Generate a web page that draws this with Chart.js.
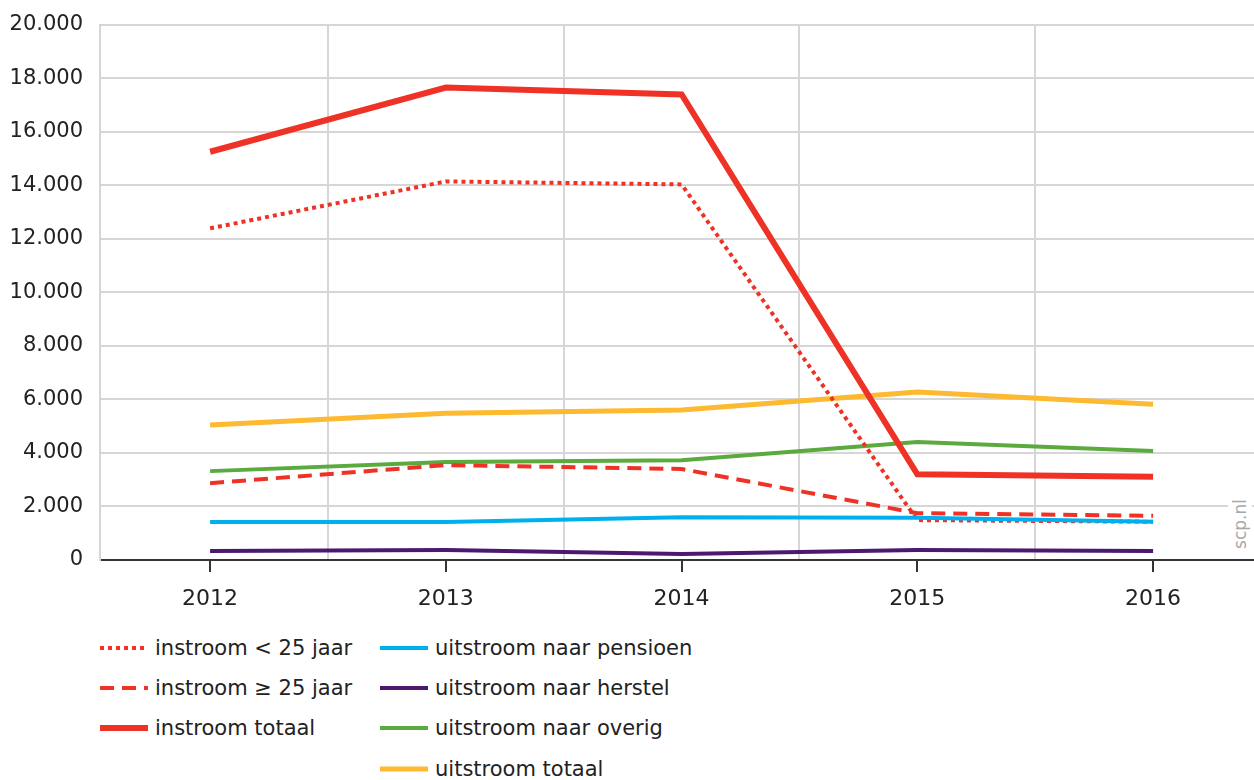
<!DOCTYPE html>
<html lang="nl">
<head>
<meta charset="utf-8">
<title>Instroom en uitstroom 2012-2016</title>
<script src="https://cdn.jsdelivr.net/npm/chart.js@4/dist/chart.umd.min.js"></script>
<style>
  html, body { margin: 0; padding: 0; background: #fff; }
  body { width: 1254px; height: 780px; position: relative; overflow: hidden; font-family: "DejaVu Sans", sans-serif; color: #222; }
  #chart { position: absolute; left: 0; top: -5px; }
  .legend-item { position: absolute; height: 30px; display: flex; align-items: center; font-size: 21px; white-space: nowrap; }
  .legend-item svg { margin-right: 7px; }
  #source { position: absolute; left: 1228px; top: 496px; width: 24px; height: 56px; background: #fff; }
  #source span { position: absolute; left: 50%; top: 50%; transform: translate(-50%, -50%) rotate(-90deg); font-size: 17px; color: #a8a8a8; white-space: nowrap; }
</style>
</head>
<body>
<canvas id="chart" width="1254" height="625"></canvas>
<div id="legend"></div>
<div id="source"><span>scp.nl</span></div>
<script>
document.addEventListener("DOMContentLoaded", function() {
    const years = [2012, 2013, 2014, 2015, 2016];

    const instroomJong = [12390, 14140, 14030, 1490, 1430];
    const instroomOud = [2870, 3545, 3400, 1750, 1650];
    const instroomTotaal = [15250, 17650, 17390, 3200, 3110];
    const uitstroomPensioen = [1420, 1420, 1600, 1580, 1430];
    const uitstroomHerstel = [340, 370, 220, 370, 340];
    const uitstroomOverig = [3320, 3660, 3730, 4410, 4070];
    const uitstroomTotaal = [5040, 5485, 5600, 6280, 5820];

    const yTicks = [0, 2000, 4000, 6000, 8000, 10000, 12000, 14000, 16000, 18000, 20000];

    const red = "#ee3326";
    const gridGrey = "#d6d6d6";

    // legend column / row of every series, plus its line style
    const series = [
        { label: "instroom < 25 jaar", data: instroomJong, color: red, width: 4, dash: [4, 4], order: 5, col: 0, row: 0 },
        { label: "instroom \u2265 25 jaar", data: instroomOud, color: red, width: 4, dash: [14, 8], order: 4, col: 0, row: 1 },
        { label: "instroom totaal", data: instroomTotaal, color: red, width: 6, dash: [], order: 1, col: 0, row: 2 },
        { label: "uitstroom naar pensioen", data: uitstroomPensioen, color: "#00b0ee", width: 4, dash: [], order: 2, col: 1, row: 0 },
        { label: "uitstroom naar herstel", data: uitstroomHerstel, color: "#4b1a6f", width: 4, dash: [], order: 3, col: 1, row: 1 },
        { label: "uitstroom naar overig", data: uitstroomOverig, color: "#5aaa3e", width: 4, dash: [], order: 6, col: 1, row: 2 },
        { label: "uitstroom totaal", data: uitstroomTotaal, color: "#fdb92f", width: 5, dash: [], order: 7, col: 1, row: 3 }
    ];

    function formatThousands(v) {
        return String(v).replace(/\B(?=(\d{3})+(?!\d))/g, ".");
    }

    const datasets = series.map(s => ({
        label: s.label,
        data: s.data.map((v, i) => ({ x: years[i], y: v })),
        borderColor: s.color,
        backgroundColor: s.color,
        borderWidth: s.width,
        borderDash: s.dash,
        borderCapStyle: "butt",
        borderJoinStyle: "miter",
        pointRadius: 0,
        pointHoverRadius: 0,
        tension: 0,
        fill: false,
        order: s.order
    }));

    new Chart(document.getElementById("chart").getContext("2d"), {
        type: "line",
        data: { datasets: datasets },
        options: {
            responsive: false,
            animation: false,
            events: [],
            layout: { padding: { top: 20, right: 0, left: 0, bottom: 0 } },
            plugins: {
                legend: { display: false },
                tooltip: { enabled: false }
            },
            scales: {
                x: {
                    type: "linear",
                    min: 2011.533,
                    max: 2016.428,
                    afterBuildTicks: function(scale) {
                        const ticks = [];
                        years.forEach((y, i) => {
                            ticks.push({ value: y });
                            if (i < years.length - 1) ticks.push({ value: y + 0.5 });
                        });
                        scale.ticks = ticks;
                    },
                    afterFit: function(scale) { scale.height = 60; },
                    grid: {
                        lineWidth: 2,
                        color: ctx => Number.isInteger(ctx.tick.value) ? "rgba(0,0,0,0)" : gridGrey,
                        tickColor: ctx => Number.isInteger(ctx.tick.value) ? "#333" : "rgba(0,0,0,0)",
                        tickWidth: 2,
                        tickLength: 12
                    },
                    border: { color: "#333", width: 2 },
                    ticks: {
                        autoSkip: false,
                        maxRotation: 0,
                        padding: 14,
                        color: "#222",
                        font: { family: "DejaVu Sans", size: 22 },
                        callback: v => Number.isInteger(v) ? String(v) : ""
                    }
                },
                y: {
                    min: 0,
                    max: 20000,
                    afterBuildTicks: function(scale) {
                        scale.ticks = yTicks.map(v => ({ value: v }));
                    },
                    afterFit: function(scale) { scale.width = 100; },
                    grid: { color: gridGrey, lineWidth: 2, drawTicks: false },
                    border: { color: gridGrey, width: 2 },
                    ticks: {
                        padding: 17,
                        color: "#222",
                        font: { family: "DejaVu Sans", size: 21 },
                        callback: v => formatThousands(v)
                    }
                }
            }
        }
    });

    // legend in two columns below the chart
    const legend = document.getElementById("legend");
    const colX = [100, 380];
    const rowY = [648, 688, 728, 769];
    series.forEach(s => {
        const item = document.createElement("div");
        item.className = "legend-item";
        item.style.left = colX[s.col] + "px";
        item.style.top = (rowY[s.row] - 15) + "px";
        const dash = s.dash.length ? s.dash.join(" ") : "none";
        item.innerHTML =
            `<svg width="48" height="8"><line x1="0" y1="4" x2="48" y2="4" stroke="${s.color}" ` +
            `stroke-width="${s.width}" stroke-dasharray="${dash}"/></svg><span>${s.label}</span>`;
        legend.appendChild(item);
    });
});
</script>
</body>
</html>
